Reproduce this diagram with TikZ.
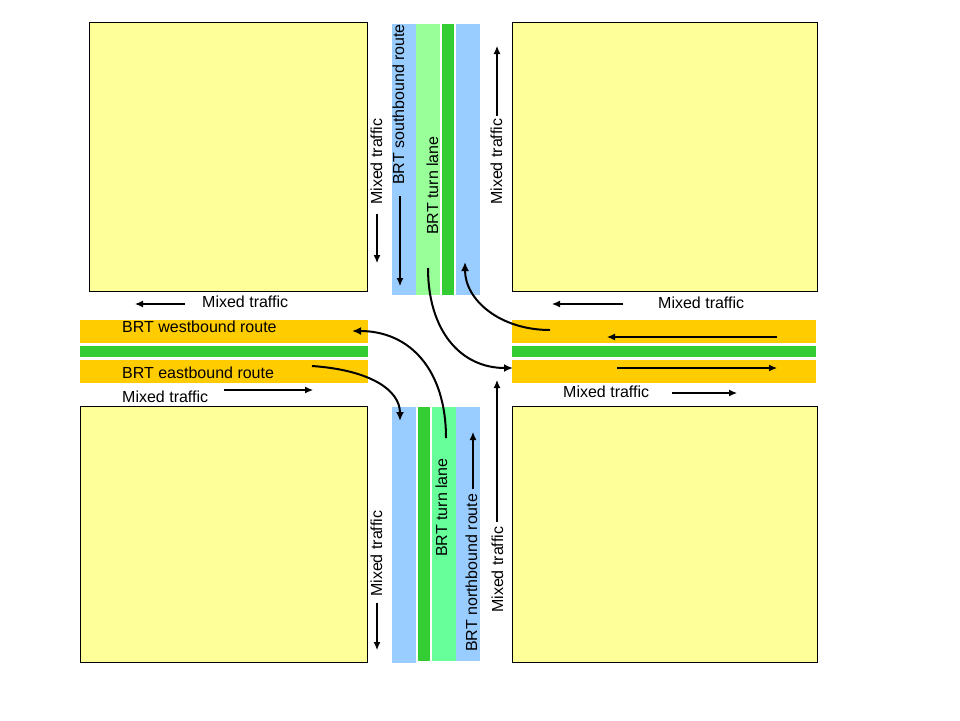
\documentclass[tikz,border=0pt]{standalone}
\usepackage{fontspec}
\setmainfont{Liberation Sans}
\usetikzlibrary{arrows.meta}
\definecolor{blockY}{HTML}{FFFF99}
\definecolor{laneO}{HTML}{FFCC00}
\definecolor{laneDG}{HTML}{33CC33}
\definecolor{laneLG}{HTML}{99FF99}
\definecolor{laneMG}{HTML}{66FF99}
\definecolor{laneB}{HTML}{99CCFF}
\tikzset{
  block/.style={fill=blockY,draw=black,line width=1pt},
  txt/.style={inner sep=0pt,font=\fontsize{16}{19}\selectfont,anchor=base west},
  vtxt/.style={txt,rotate=90},
  arr/.style={line width=1.2pt,-{Latex[length=8pt,width=7pt]}},
  turn/.style={line width=2pt,-{Latex[length=9pt,width=8pt]}}
}
\begin{document}
\begin{tikzpicture}[x=1pt,y=-1pt]
\useasboundingbox (0,0) rectangle (960,720);
% blocks
\fill[white] (0,0) rectangle (960,720);
\draw[block] (89,22) rectangle (367,291);
\draw[block] (512,22) rectangle (817,291);
\draw[block] (80,406) rectangle (367,662);
\draw[block] (512,406) rectangle (817,662);
% top lanes
\fill[laneB] (392,24) rectangle (416,295);
\fill[laneLG] (416,24) rectangle (440,295);
\fill[laneDG] (442,24) rectangle (454,295);
\fill[laneB] (456,24) rectangle (480,295);
% bottom lanes
\fill[laneB] (392,407) rectangle (416,663);
\fill[laneDG] (418,407) rectangle (430,661);
\fill[laneMG] (432,407) rectangle (456,661);
\fill[laneB] (456,407) rectangle (480,661);
% left lanes
\fill[laneO] (80,320) rectangle (368,343);
\fill[laneDG] (80,346) rectangle (368,357);
\fill[laneO] (80,360) rectangle (368,383);
% right lanes
\fill[laneO] (512,320) rectangle (816,343);
\fill[laneDG] (512,346) rectangle (816,357);
\fill[laneO] (512,360) rectangle (816,383);
% horizontal texts
\node[txt] (mtl) at (202,307) {Mixed traffic};
\node[txt] (wb) at (122,332) {BRT westbound route};
\node[txt] (eb) at (122,378) {BRT eastbound route};
\node[txt] (mbl) at (122,402) {Mixed traffic};
\node[txt] (mtr) at (658,308) {Mixed traffic};
\node[txt] (mbr) at (563,397) {Mixed traffic};
% vertical texts
\node[vtxt] (vtl) at (382,205) {Mixed traffic};
\node[vtxt] (sb) at (404,185) {BRT southbound route};
\node[vtxt] (tlt) at (438,235) {BRT turn lane};
\node[vtxt] (vtr) at (502,205) {Mixed traffic};
\node[vtxt] (vbl) at (382,597) {Mixed traffic};
\node[vtxt] (tlb) at (447,557) {BRT turn lane};
\node[vtxt] (nb) at (477,652) {BRT northbound route};
\node[vtxt] (vbr) at (503,613) {Mixed traffic};
% straight arrow coordinates
\coordinate (a1s) at (185,304); \coordinate (a1e) at (135,304);
\coordinate (a2s) at (224,390); \coordinate (a2e) at (313,390);
\coordinate (a3s) at (623,304); \coordinate (a3e) at (552,304);
\coordinate (a4s) at (777,337); \coordinate (a4e) at (607,337);
\coordinate (a5s) at (617,368); \coordinate (a5e) at (777,368);
\coordinate (a6s) at (672,393); \coordinate (a6e) at (737,393);
\coordinate (a7s) at (377,214); \coordinate (a7e) at (377,263);
\coordinate (a8s) at (400,196); \coordinate (a8e) at (400,286);
\coordinate (a9s) at (497,116); \coordinate (a9e) at (497,46);
\coordinate (a10s) at (377,603); \coordinate (a10e) at (377,650);
\coordinate (a11s) at (473,489); \coordinate (a11e) at (473,432);
\coordinate (a12s) at (497,522); \coordinate (a12e) at (497,380);
\foreach \i in {1,...,12} \draw[arr] (a\i s) -- (a\i e);
% turning movements
\coordinate (t1s) at (428,268); \coordinate (t1e) at (513,368);
\coordinate (t2s) at (550,330); \coordinate (t2e) at (465,262);
\coordinate (t3s) at (446,438); \coordinate (t3e) at (352,331);
\coordinate (t4s) at (312,366); \coordinate (t4e) at (400,421);
\draw[turn] (t1s) .. controls (428,330) and (460,368) .. (t1e);
\draw[turn] (t2s) .. controls (500,330) and (465,300) .. (t2e);
\draw[turn] (t3s) .. controls (446,370) and (410,331) .. (t3e);
\draw[turn] (t4s) .. controls (370,370) and (400,390) .. (t4e);
\end{tikzpicture}
\end{document}
